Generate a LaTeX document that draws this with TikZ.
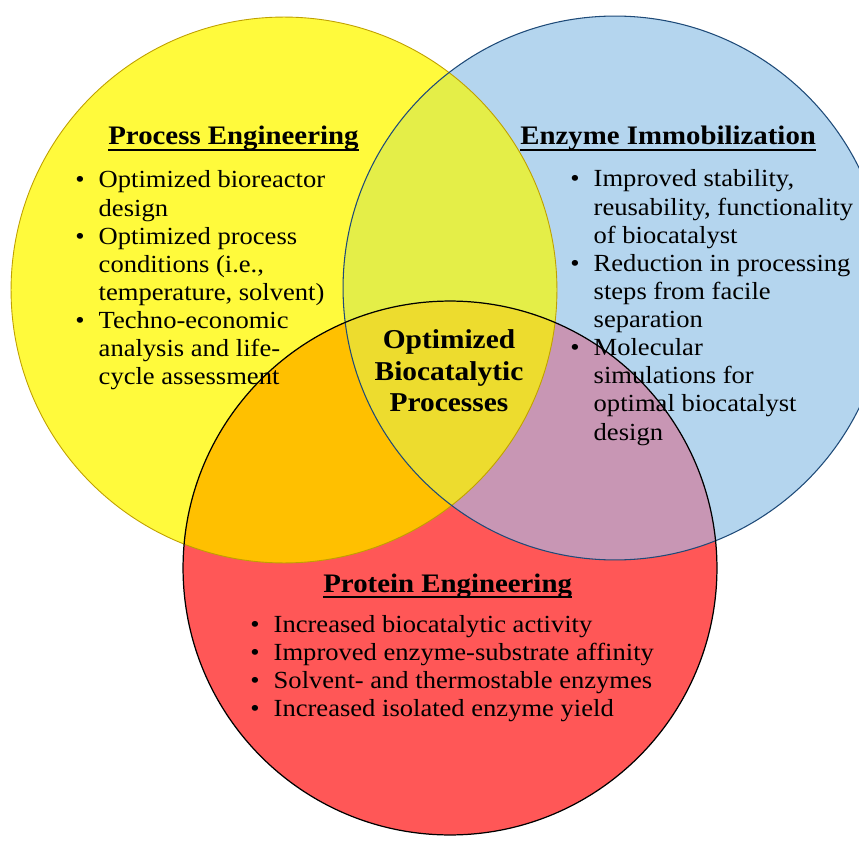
\documentclass[tikz,border=0pt]{standalone}
\usepackage{fontspec}
\setmainfont{Liberation Serif}[FakeStretch=1.08]

\definecolor{procYellow}{HTML}{FFFA3C}
\definecolor{immoBlue}{HTML}{B4D5EE}
\definecolor{protRed}{HTML}{FF5757}
\definecolor{mixYB}{HTML}{E4EE48}
\definecolor{mixYR}{HTML}{FFC000}
\definecolor{mixBR}{HTML}{C896B4}
\definecolor{mixAll}{HTML}{EDDC2E}
\definecolor{yellowEdge}{HTML}{BFA000}
\definecolor{blueEdge}{HTML}{1E4A78}

\newcommand{\bul}{\textbullet}
\newcommand{\yrad}{5.46cm}
\newcommand{\brad}{5.44cm}
\newcommand{\rrad}{5.34cm}

\tikzset{
  headtext/.style={anchor=base west, inner sep=0pt, font=\fontsize{15.2}{17}\selectfont\bfseries},
  listtext/.style={anchor=base west, inner sep=0pt, font=\fontsize{14}{16}\selectfont},
  headrule/.style={line width=1.1pt}
}

\begin{document}
\begin{tikzpicture}[x=0.02cm, y=0.02cm]
  \useasboundingbox (0,0) rectangle (859,840);
  \fill[white] (0,0) rectangle (859,840);
  \coordinate (yc) at (284,550);
  \coordinate (bc) at (615,552);
  \coordinate (rc) at (450,272);

  \fill[procYellow] (yc) circle[radius=\yrad];
  \fill[immoBlue] (bc) circle[radius=\brad];
  \fill[protRed] (rc) circle[radius=\rrad];
  \begin{scope}
    \clip (bc) circle[radius=\brad];
    \fill[mixBR] (rc) circle[radius=\rrad];
  \end{scope}
  \begin{scope}
    \clip (yc) circle[radius=\yrad];
    \fill[mixYB] (bc) circle[radius=\brad];
    \fill[mixYR] (rc) circle[radius=\rrad];
    \clip (bc) circle[radius=\brad];
    \fill[mixAll] (rc) circle[radius=\rrad];
  \end{scope}
  \draw[yellowEdge, line width=0.5pt] (yc) circle[radius=\yrad];
  \draw[blueEdge, line width=0.6pt] (bc) circle[radius=\brad];
  \draw[black, line width=0.7pt] (rc) circle[radius=\rrad];

  \node[headtext] (procHead) at (108,695) {Process Engineering};
  \draw[headrule] ([yshift=-3pt]procHead.base west) -- ([yshift=-3pt]procHead.base east);
  \node[listtext] (procList) at (75,652) {\begin{tabular}[t]{@{}l@{\hspace{8pt}}l@{}}
    \bul & Optimized bioreactor\\
        & design\\
    \bul & Optimized process\\
        & conditions (i.e.,\\
        & temperature, solvent)\\
    \bul & Techno-economic\\
        & analysis and life-\\
        & cycle assessment
  \end{tabular}};

  \node[headtext] (immoHead) at (520,695) {Enzyme Immobilization};
  \draw[headrule] ([yshift=-3pt]immoHead.base west) -- ([yshift=-3pt]immoHead.base east);
  \node[listtext] (immoList) at (570,653) {\begin{tabular}[t]{@{}l@{\hspace{8pt}}l@{}}
    \bul & Improved stability,\\
        & reusability, functionality\\
        & of biocatalyst\\
    \bul & Reduction in processing\\
        & steps from facile\\
        & separation\\
    \bul & Molecular\\
        & simulations for\\
        & optimal biocatalyst\\
        & design
  \end{tabular}};

  \node[headtext] (protHead) at (323,248) {Protein Engineering};
  \draw[headrule] ([yshift=-3pt]protHead.base west) -- ([yshift=-3pt]protHead.base east);
  \node[listtext] (protList) at (250,208) {\begin{tabular}[t]{@{}l@{\hspace{8pt}}l@{}}
    \bul & Increased biocatalytic activity\\
    \bul & Improved enzyme-substrate affinity\\
    \bul & Solvent- and thermostable enzymes\\
    \bul & Increased isolated enzyme yield
  \end{tabular}};

  \node[align=center, font=\fontsize{15.5}{17.9}\selectfont\bfseries] (core) at (449,469)
    {Optimized\\Biocatalytic\\Processes};
\end{tikzpicture}
\end{document}
